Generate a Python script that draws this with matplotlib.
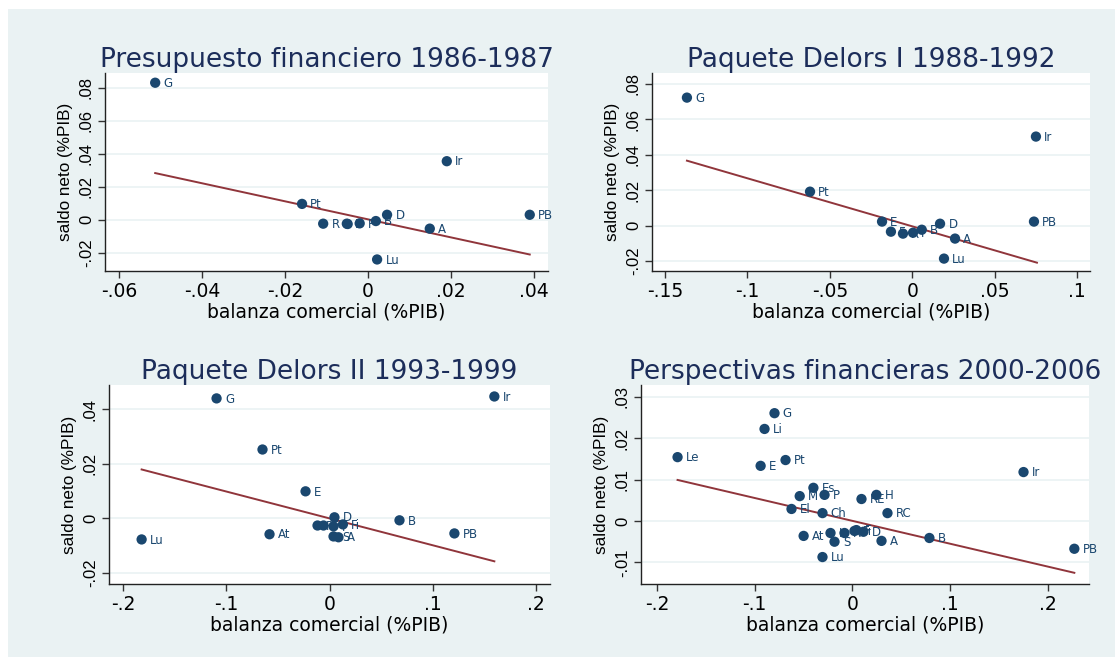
import numpy as np
import matplotlib
matplotlib.use('Agg')
import matplotlib.pyplot as plt
from matplotlib.patches import Rectangle

plt.rcParams['font.family'] = ['DejaVu Sans']

# colours (Stata s2color look)
BG = '#eaf2f3'
NAVY = '#1a476f'
MAROON = '#90353b'
TITLE = '#1c2d5a'

titles = ['Presupuesto financiero 1986-1987', 'Paquete Delors I 1988-1992',
          'Paquete Delors II 1993-1999', 'Perspectivas financieras 2000-2006']

# panel 1: 1986-1987
p1_lab = ['G', 'Ir', 'Pt', 'D', 'PB', 'R', 'E', 'I', 'F', 'B', 'A', 'Lu']
p1_x = [-0.0513, 0.0190, -0.0159, 0.0046, 0.0390, -0.0108, -0.0051, -0.0049, -0.0020, 0.0019, 0.0149, 0.0022]
p1_y = [0.0831, 0.0355, 0.0096, 0.0030, 0.0030, -0.0024, -0.0024, -0.0026, -0.0022, -0.0008, -0.0054, -0.0241]
p1_fit_x = [-0.0513, 0.0390]
p1_fit_y = [0.0283, -0.0211]

# panel 2: 1988-1992
p2_lab = ['G', 'Ir', 'Pt', 'PB', 'E', 'F', 'R', 'I', 'B', 'D', 'A', 'Lu']
p2_x = [-0.1367, 0.0751, -0.0620, 0.0739, -0.0183, -0.0129, -0.0056, 0.0005, 0.0058, 0.0169, 0.0260, 0.0193]
p2_y = [0.0723, 0.0503, 0.0192, 0.0023, 0.0023, -0.0034, -0.0045, -0.0040, -0.0023, 0.0011, -0.0073, -0.0186]
p2_fit_x = [-0.1367, 0.0757]
p2_fit_y = [0.0367, -0.0209]

# panel 3: 1993-1999
p3_lab = ['G', 'Ir', 'Pt', 'E', 'D', 'R', 'F', 'I', 'Fi', 'S', 'A', 'B', 'PB', 'At', 'Lu']
p3_x = [-0.1094, 0.1597, -0.0649, -0.0232, 0.0048, -0.0116, -0.0058, 0.0039, 0.0130, 0.0039, 0.0087, 0.0678, 0.1210, -0.0581, -0.1820]
p3_y = [0.0439, 0.0446, 0.0252, 0.0099, 0.0004, -0.0026, -0.0026, -0.0029, -0.0022, -0.0066, -0.0069, -0.0007, -0.0055, -0.0058, -0.0077]
p3_fit_x = [-0.1820, 0.1597]
p3_fit_y = [0.0179, -0.0157]

# panel 4: 2000-2006
p4_lab = ['G', 'Li', 'E', 'Pt', 'Le', 'Ir', 'PB', 'Es', 'M', 'P', 'RE', 'H', 'El', 'Ch', 'RC',
          'At', 'I', 'S', 'R', 'Fi', 'F', 'D', 'A', 'Lu', 'B']
p4_x = [-0.0798, -0.0900, -0.0940, -0.0685, -0.1790, 0.1750, 0.2270, -0.0400, -0.0540, -0.0286, 0.0092, 0.0245, -0.0624, -0.0307, 0.0358,
        -0.0500, -0.0225, -0.0184, -0.0082, 0.0020, 0.0040, 0.0112, 0.0297, -0.0307, 0.0787]
p4_y = [0.0260, 0.0222, 0.0133, 0.0147, 0.0154, 0.0118, -0.0067, 0.0080, 0.0060, 0.0063, 0.0053, 0.0063, 0.0029, 0.0019, 0.0019,
        -0.0036, -0.0029, -0.0050, -0.0029, -0.0024, -0.0022, -0.0026, -0.0048, -0.0087, -0.0041]
p4_fit_x = [-0.1790, 0.2270]
p4_fit_y = [0.0099, -0.0125]

panels = [(p1_lab, p1_x, p1_y, p1_fit_x, p1_fit_y),
          (p2_lab, p2_x, p2_y, p2_fit_x, p2_fit_y),
          (p3_lab, p3_x, p3_y, p3_fit_x, p3_fit_y),
          (p4_lab, p4_x, p4_y, p4_fit_x, p4_fit_y)]

xticks = [[-0.06, -0.04, -0.02, 0, 0.02, 0.04],
          [-0.15, -0.1, -0.05, 0, 0.05, 0.1],
          [-0.2, -0.1, 0, 0.1, 0.2],
          [-0.2, -0.1, 0, 0.1, 0.2]]
yticks = [[-0.02, 0, 0.02, 0.04, 0.06, 0.08],
          [-0.02, 0, 0.02, 0.04, 0.06, 0.08],
          [-0.02, 0, 0.02, 0.04],
          [-0.01, 0, 0.01, 0.02, 0.03]]
xlims = [(-0.0634, 0.0434), (-0.1579, 0.1079), (-0.2136, 0.2136), (-0.2164, 0.242)]
ylims = [(-0.0311, 0.089), (-0.0256, 0.0862), (-0.024, 0.0488), (-0.0152, 0.0328)]

# axes rectangles in pixels: left, top, right, bottom
W, H = 1115, 657
boxes = [(105, 73, 548, 271), (652, 73, 1090, 271), (109, 385, 550, 584), (641, 385, 1089, 584)]


def fmt(v):
    if abs(v) < 1e-12:
        return '0'
    s = ('%g' % v)
    return s.replace('0.', '.')


fig = plt.figure(figsize=(W / 100, H / 100), dpi=100)
fig.patch.set_facecolor('white')
fig.patches.append(Rectangle((8 / W, 0), 1 - 8 / W, 1 - 9 / H, transform=fig.transFigure,
                             facecolor=BG, edgecolor='none', zorder=-10))

for i, (lab, x, y, fx, fy) in enumerate(panels):
    l, t, r, b = boxes[i]
    ax = fig.add_axes([l / W, 1 - b / H, (r - l) / W, (b - t) / H])
    ax.set_facecolor('white')
    ax.set_xlim(*xlims[i])
    ax.set_ylim(*ylims[i])

    for yt in yticks[i]:
        ax.axhline(yt, color=BG, lw=1.2, zorder=0)

    # fitted line as drawn in the source
    ax.plot(fx, fy, color=MAROON, lw=1.4, zorder=2)

    ax.scatter(x, y, s=55, color=NAVY, edgecolors='none', zorder=3)
    for k in range(len(lab)):
        ax.annotate(lab[k], (x[k], y[k]), xytext=(6, -0.5), textcoords='offset points',
                    fontsize=8.5, color=NAVY, va='center', ha='left', zorder=4)

    ax.set_xticks(xticks[i])
    ax.set_xticklabels([fmt(v) for v in xticks[i]], fontsize=13.5)
    ax.set_yticks(yticks[i])
    ax.set_yticklabels([fmt(v) for v in yticks[i]], fontsize=12,
                       family='Liberation Sans', rotation=90, va='center')
    ax.tick_params(direction='out', length=5, width=1, color='#333333', pad=3)

    for s in ['top', 'right']:
        ax.spines[s].set_visible(False)
    for s in ['left', 'bottom']:
        ax.spines[s].set_color('#222222')
        ax.spines[s].set_linewidth(1.0)

    ax.set_xlabel('balanza comercial (%PIB)', fontsize=13.5, labelpad=1)
    ax.set_ylabel('saldo neto (%PIB)', fontsize=12.3, family='Liberation Sans', labelpad=4)
    ax.set_title(titles[i], fontsize=19, color=TITLE, pad=3)

fig.savefig('out.png', dpi=100, facecolor=fig.get_facecolor())
